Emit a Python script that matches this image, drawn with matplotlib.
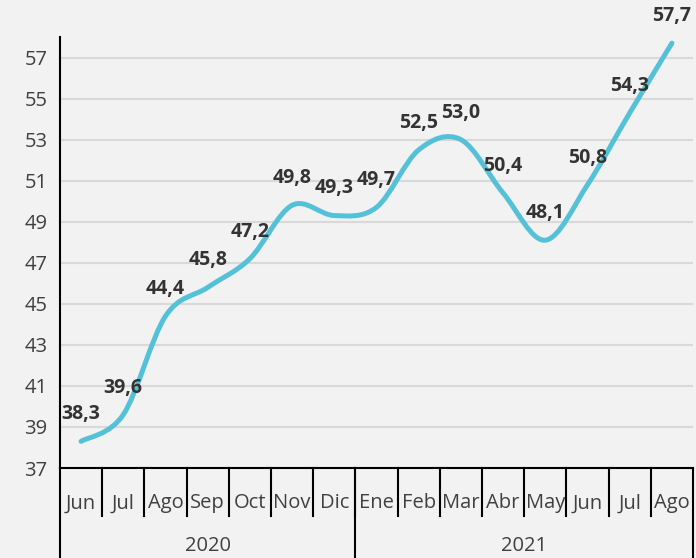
import matplotlib.pyplot as plt
from matplotlib.path import Path
from matplotlib.patches import PathPatch
import matplotlib.transforms as mtransforms

plt.rcParams['font.family'] = ['Open Sans', 'DejaVu Sans']

# Data
months = ['Jun', 'Jul', 'Ago', 'Sep', 'Oct', 'Nov', 'Dic',
          'Ene', 'Feb', 'Mar', 'Abr', 'May', 'Jun', 'Jul', 'Ago']
years = ['2020', '2021']
year_counts = [7, 8]
values = [38.3, 39.6, 44.4, 45.8, 47.2, 49.8, 49.3,
          49.7, 52.5, 53.0, 50.4, 48.1, 50.8, 54.3, 57.7]
labels = [f'{v:.1f}'.replace('.', ',') for v in values]

bg = '#F2F2F2'
line_color = '#55C1D9'
text_color = '#404040'
label_color = '#333333'

fig = plt.figure(figsize=(6.96, 5.58), dpi=100, facecolor=bg)
ax = fig.add_axes([60 / 696, 90 / 558, 633 / 696, 431 / 558], facecolor=bg)

n = len(values)
xs = list(range(n))

# smoothed line (bezier segments through the points)
verts = [(xs[0], values[0])]
codes = [Path.MOVETO]
for i in range(n - 1):
    p0 = (xs[max(i - 1, 0)], values[max(i - 1, 0)])
    p1 = (xs[i], values[i])
    p2 = (xs[i + 1], values[i + 1])
    p3 = (xs[min(i + 2, n - 1)], values[min(i + 2, n - 1)])
    c1 = (p1[0] + (p2[0] - p0[0]) / 6, p1[1] + (p2[1] - p0[1]) / 6)
    c2 = (p2[0] - (p3[0] - p1[0]) / 6, p2[1] - (p3[1] - p1[1]) / 6)
    verts += [c1, c2, p2]
    codes += [Path.CURVE4] * 3
ax.add_patch(PathPatch(Path(verts, codes), facecolor='none',
                       edgecolor=line_color, lw=3.6, capstyle='round',
                       zorder=3))

for x, v, lab in zip(xs, values, labels):
    ax.annotate(lab, (x, v), xytext=(0, 19.5), textcoords='offset points',
                ha='center', va='center', fontsize=14, fontweight='bold',
                color=label_color, zorder=4)

ax.set_xlim(-0.5, n - 0.5)
ax.set_ylim(37, 58)
ax.set_yticks(range(37, 58, 2))
ax.yaxis.grid(True, color='#D9D9D9', lw=1.5)
ax.set_axisbelow(True)
ax.tick_params(axis='y', length=0, labelsize=14.5, labelcolor=text_color, pad=9)
ax.set_xticks([])
for s in ['top', 'right']:
    ax.spines[s].set_visible(False)
ax.spines['left'].set_color('black')
ax.spines['bottom'].set_color('black')
ax.spines['left'].set_linewidth(1.5)
ax.spines['bottom'].set_linewidth(1.5)

# two-level category axis
trans = mtransforms.blended_transform_factory(ax.transData, ax.transAxes)
for i, m in enumerate(months):
    ax.text(i, -0.082, m, transform=trans, ha='center', va='center',
            fontsize=14.5, color=text_color)
for b in range(1, n):
    ax.plot([b - 0.5, b - 0.5], [0, -0.112], transform=trans,
            color='black', lw=1.5, clip_on=False)
start = 0
for yr, cnt in zip(years, year_counts):
    ax.text(start + (cnt - 1) / 2, -0.181, yr, transform=trans,
            ha='center', va='center', fontsize=14.5, color=text_color)
    start += cnt
bounds = [-0.5]
for cnt in year_counts:
    bounds.append(bounds[-1] + cnt)
for b in bounds:
    ax.plot([b, b], [0, -0.25], transform=trans, color='black', lw=1.5,
            clip_on=False)

plt.savefig('out.png', dpi=100, facecolor=bg)
